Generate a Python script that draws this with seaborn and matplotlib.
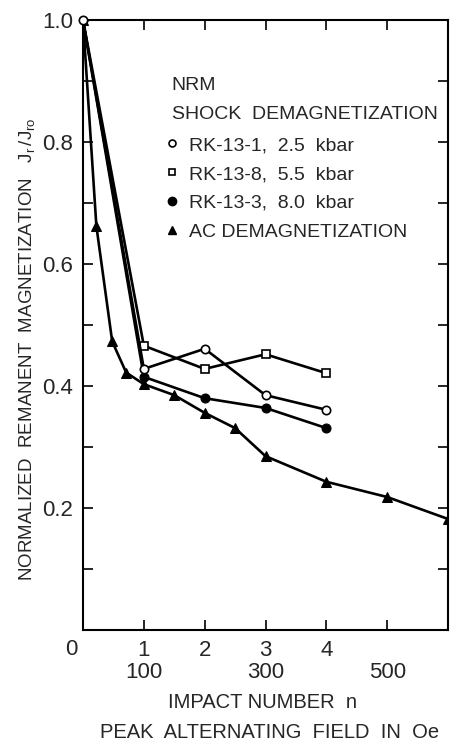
import numpy as np
import matplotlib
matplotlib.use("Agg")
import matplotlib.pyplot as plt
import seaborn as sns
from matplotlib.lines import Line2D

# shock demagnetization: impact number n vs J_r/J_ro
n_impact = [0, 1, 2, 3, 4]
j_rk131 = [1.0, 0.428, 0.461, 0.385, 0.361]
j_rk138 = [1.0, 0.466, 0.428, 0.452, 0.421]
j_rk133 = [1.0, 0.415, 0.380, 0.364, 0.331]

# AC demagnetization: peak alternating field (Oe) vs J_r/J_ro
af_oe = [0, 22, 48, 71, 100, 150, 200, 250, 300, 400, 500, 600]
j_af = [1.0, 0.662, 0.473, 0.422, 0.403, 0.385, 0.356, 0.331, 0.285, 0.243, 0.218, 0.182]

n_ticks = [1, 2, 3, 4, 5]
n_ticklabels = ["1", "2", "3", "4", ""]
oe_labels = [100, 300, 500]
y_major = [0.0, 0.2, 0.4, 0.6, 0.8, 1.0]
y_major_labels = ["", "0.2", "0.4", "0.6", "0.8", "1.0"]
y_minor = [0.1, 0.3, 0.5, 0.7, 0.9]

labels = ["RK-13-1,  2.5  kbar", "RK-13-8,  5.5  kbar",
          "RK-13-3,  8.0  kbar", "AC DEMAGNETIZATION"]

sns.set_style("ticks")
plt.rcParams["font.family"] = ["Liberation Sans", "DejaVu Sans"]
plt.rcParams["mathtext.fontset"] = "custom"
plt.rcParams["mathtext.rm"] = "Liberation Sans"
plt.rcParams["mathtext.it"] = "Liberation Sans"

fig = plt.figure(figsize=(4.5, 7.4), dpi=100)
ax = fig.add_axes([83/450, 1 - 630/740, 365/450, 610/740])

lw = 1.9
af_x = np.array(af_oe) / 100.0
sns.lineplot(x=af_x, y=j_af, ax=ax, color="k", lw=lw, marker="^", ms=7,
             mfc="k", mec="k", estimator=None)
sns.lineplot(x=n_impact, y=j_rk133, ax=ax, color="k", lw=lw, marker="o", ms=6.5,
             mfc="k", mec="k", estimator=None)
sns.lineplot(x=n_impact, y=j_rk138, ax=ax, color="k", lw=lw, marker="s", ms=5.5,
             mfc="white", mec="k", mew=1.2, estimator=None)
sns.lineplot(x=n_impact, y=j_rk131, ax=ax, color="k", lw=lw, marker="o", ms=6,
             mfc="white", mec="k", mew=1.2, estimator=None, clip_on=False, zorder=5)

ax.set_xlim(0, 6)
ax.set_ylim(0, 1.0)
ax.set_xticks(n_ticks)
ax.set_xticklabels(n_ticklabels)
ax.set_yticks(y_major)
ax.set_yticklabels(y_major_labels)
ax.set_yticks(y_minor, minor=True)
ax.tick_params(which="both", direction="in", top=True, right=True,
               length=7.5, width=1.2, color="k", labelsize=16, pad=7)
for s in ax.spines.values():
    s.set_linewidth(1.5)
    s.set_color("k")

tr = ax.get_xaxis_transform()
ax.text(-0.2, -0.0155, "0", transform=tr, ha="center", va="top", fontsize=16)
for v in oe_labels:
    ax.text(v / 100.0, -0.052, str(v), transform=tr, ha="center", va="top", fontsize=16)

fig.text(263/450, 1 - 703/740, "IMPACT NUMBER  n", ha="center", va="center", fontsize=14.5)
fig.text(270/450, 1 - 732/740, "PEAK  ALTERNATING  FIELD  IN  Oe", ha="center", va="center",
         fontsize=14.5)
fig.text(27/450, 1 - 349/740,
         r"NORMALIZED  REMANENT  MAGNETIZATION   $\mathregular{J_r\,/J_{ro}}$",
         rotation=90, ha="center", va="center", fontsize=13.5)

ax.text(0.243, 0.893, "NRM", transform=ax.transAxes, ha="left", va="center", fontsize=14)
ax.text(0.243, 0.845, "SHOCK  DEMAGNETIZATION", transform=ax.transAxes, ha="left",
        va="center", fontsize=14)

handles = [
    Line2D([], [], ls="none", marker="o", ms=5, mfc="white", mec="k", mew=1.2),
    Line2D([], [], ls="none", marker="s", ms=4.5, mfc="white", mec="k", mew=1.2),
    Line2D([], [], ls="none", marker="o", ms=6, mfc="k", mec="k"),
    Line2D([], [], ls="none", marker="^", ms=6, mfc="k", mec="k"),
]
ax.legend(handles, labels, loc="upper left", bbox_to_anchor=(0.228, 0.809),
          frameon=False, fontsize=14, handlelength=0.6, handletextpad=0.55,
          labelspacing=0.58, borderaxespad=0, borderpad=0)

fig.savefig("out.png", dpi=100)
